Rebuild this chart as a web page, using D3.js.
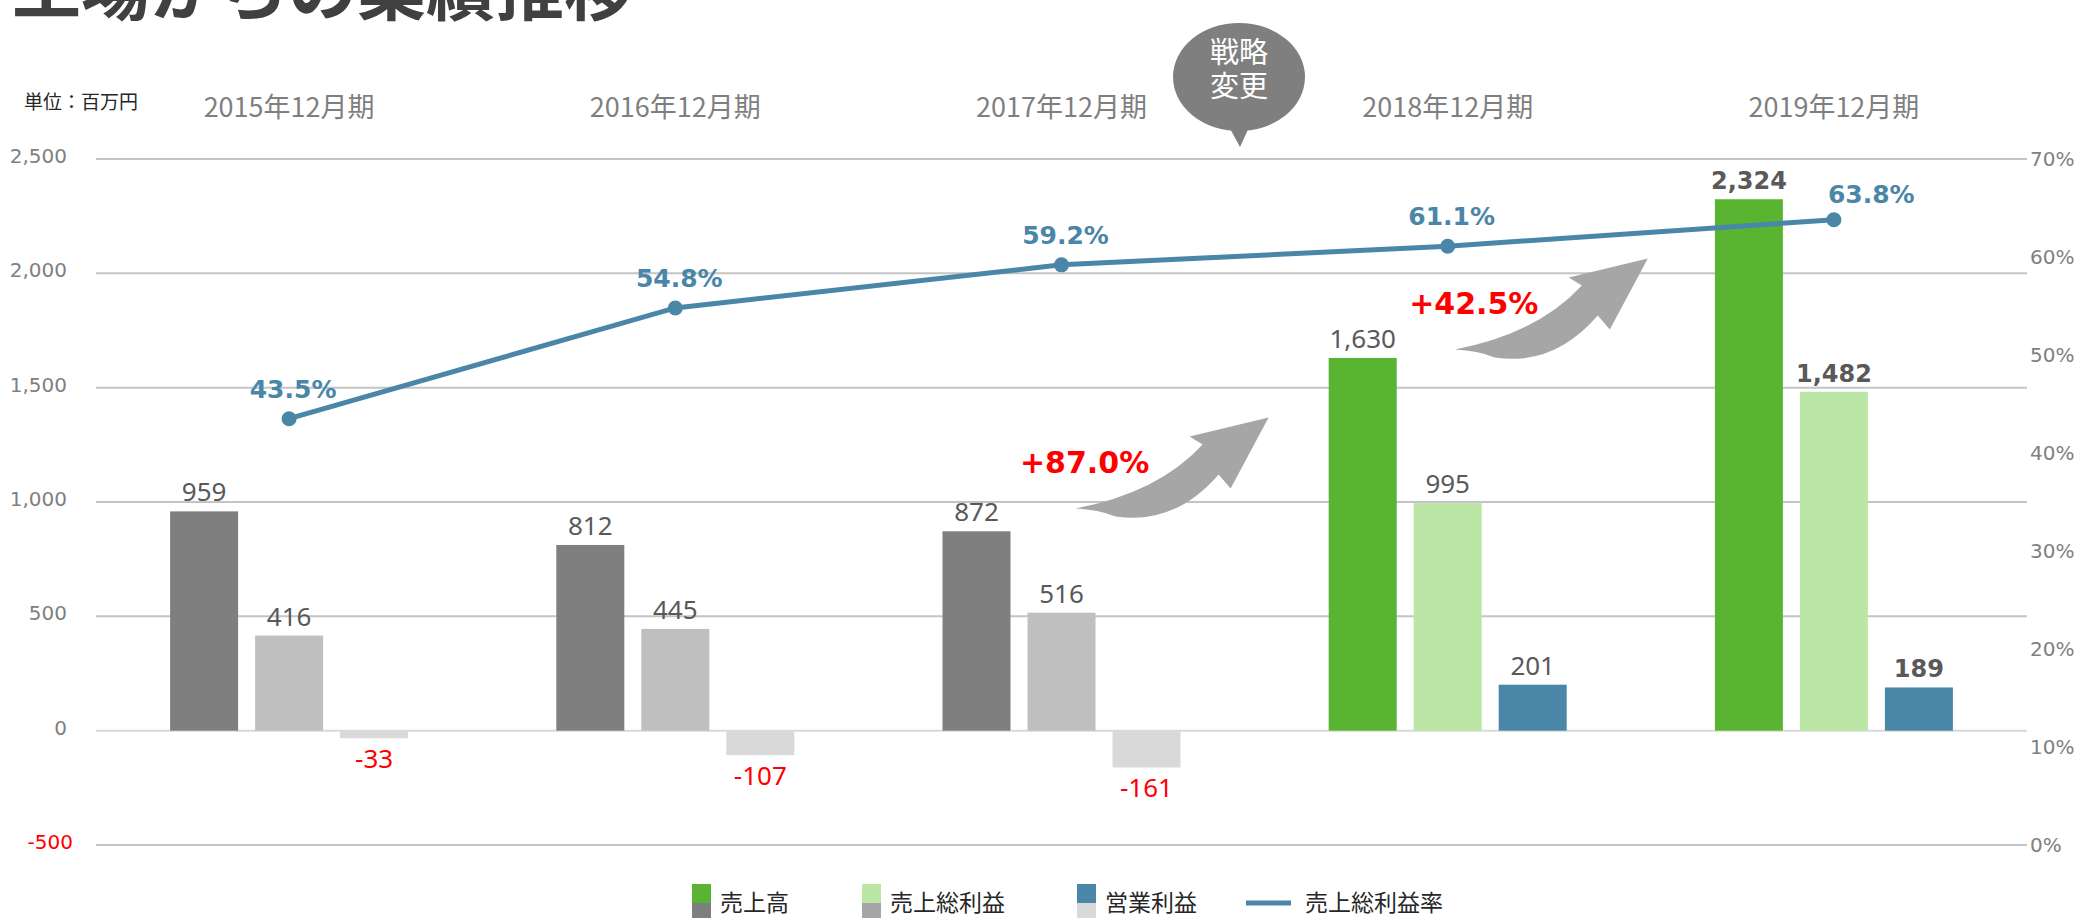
<!DOCTYPE html>
<html lang="ja">
<head>
<meta charset="utf-8">
<title>工場からの業績推移</title>
<script src="https://cdn.jsdelivr.net/npm/d3@7"></script>
<style>
    html, body { margin: 0; padding: 0; background: #fff; overflow: hidden; }
    svg { display: block; }
</style>
</head>
<body>
<div id="chart"></div>
<script>
// Data
const title = "工場からの業績推移";
const unitLabel = "単位：百万円";
const periods = ["2015年12月期", "2016年12月期", "2017年12月期", "2018年12月期", "2019年12月期"];
const seriesNames = ["売上高", "売上総利益", "営業利益"];
const sales = [959, 812, 872, 1630, 2324];
const grossProfit = [416, 445, 516, 995, 1482];
const operatingProfit = [-33, -107, -161, 201, 189];
const grossMargin = [43.5, 54.8, 59.2, 61.1, 63.8];
const lineName = "売上総利益率";
const leftTicks = [-500, 0, 500, 1000, 1500, 2000, 2500];
const rightTicks = [0, 10, 20, 30, 40, 50, 60, 70];
const growthLabels = ["+87.0%", "+42.5%"];
const calloutLines = ["戦略", "変更"];
const changeIndex = 3; // bars are colored from 2018

const oldColors = ["#7f7f7f", "#bfbfbf", "#d9d9d9"];
const newColors = ["#59b431", "#bce6a6", "#4a86a8"];
const legendOldColors = ["#7f7f7f", "#a6a6a6", "#d9d9d9"];
const lineColor = "#4a86a8";

const W = 2098, H = 918;
const values = [sales, grossProfit, operatingProfit];

// plain hyphen for negatives, like the original
const fmt = d3.formatLocale({ decimal: ".", thousands: ",", grouping: [3], currency: ["", ""], minus: "-" }).format(",");

const svg = d3.select("#chart")
    .append("svg")
    .attr("width", W)
    .attr("height", H);

// Scales
const x = d3.scaleBand().domain(periods).range([96, 2027]);
const xs = d3.scaleBand().domain(seriesNames).range([-119, 119]).paddingInner(0.2);
const y = d3.scaleLinear().domain([-500, 2500]).range([845, 159]);
const y2 = d3.scaleLinear().domain([0, 70]).range([845, 159]);
const cx = p => x(p) + x.bandwidth() / 2;

// Title (cut off by the top edge)
svg.append("text")
    .attr("x", 12)
    .attr("y", 15)
    .attr("font-family", "Noto Sans CJK JP")
    .attr("font-weight", 700)
    .attr("font-size", 69)
    .attr("fill", "#404040")
    .text(title);

svg.append("text")
    .attr("x", 24)
    .attr("y", 109)
    .attr("font-family", "Noto Sans CJK JP")
    .attr("font-size", 19)
    .attr("fill", "#262626")
    .text(unitLabel);

// Category labels on top
svg.selectAll(".cat")
    .data(periods)
    .enter()
    .append("text")
    .attr("x", d => cx(d))
    .attr("y", 117)
    .attr("text-anchor", "middle")
    .attr("font-family", "Noto Sans CJK JP")
    .attr("font-size", 27)
    .attr("fill", "#7f7f7f")
    .text(d => d);

// Gridlines
svg.selectAll(".grid")
    .data(leftTicks)
    .enter()
    .append("line")
    .attr("x1", 96)
    .attr("x2", 2027)
    .attr("y1", d => y(d))
    .attr("y2", d => y(d))
    .attr("stroke", d => d === 0 ? "#d9d9d9" : "#c4c4c4")
    .attr("stroke-width", 2);

// Left axis labels
svg.selectAll(".ly")
    .data(leftTicks)
    .enter()
    .append("text")
    .attr("x", d => d < 0 ? 73 : 67)
    .attr("y", d => y(d) - 3)
    .attr("dy", "0.35em")
    .attr("text-anchor", "end")
    .attr("font-family", "DejaVu Sans")
    .attr("font-size", 20)
    .attr("fill", d => d < 0 ? "#ff0000" : "#808080")
    .text(d => fmt(d));

// Right axis labels
svg.selectAll(".ry")
    .data(rightTicks)
    .enter()
    .append("text")
    .attr("x", 2030)
    .attr("y", d => y2(d))
    .attr("dy", "0.35em")
    .attr("font-family", "DejaVu Sans")
    .attr("font-size", 20)
    .attr("fill", "#808080")
    .text(d => d + "%");

// Bars
const bars = periods.flatMap((p, i) => seriesNames.map((s, j) => ({
    period: p, series: s, i, j, value: values[j][i]
})));

svg.selectAll(".bar")
    .data(bars)
    .enter()
    .append("rect")
    .attr("x", d => cx(d.period) + xs(d.series))
    .attr("y", d => y(Math.max(0, d.value)))
    .attr("width", xs.bandwidth())
    .attr("height", d => Math.abs(y(d.value) - y(0)))
    .attr("fill", d => d.i >= changeIndex ? newColors[d.j] : oldColors[d.j]);

// Bar labels
const lastPeriod = periods.length - 1;
svg.selectAll(".barLabel")
    .data(bars)
    .enter()
    .append("text")
    .attr("x", d => cx(d.period) + xs(d.series) + xs.bandwidth() / 2)
    .attr("y", d => d.value >= 0 ? y(d.value) - 10 : y(d.value) + 30)
    .attr("text-anchor", "middle")
    .attr("font-family", d => d.i === lastPeriod ? "DejaVu Sans" : "Noto Sans")
    .attr("font-weight", d => d.i === lastPeriod ? 700 : 400)
    .attr("font-size", d => d.i === lastPeriod ? 24 : 26)
    .attr("fill", d => d.value < 0 ? "#ff0000" : "#595959")
    .text(d => fmt(d.value));

// Growth arrows
const arrowPath = "M-193,91 Q-110,75 -66,27 L-79,19 L0,0 L-38,71 L-50,57 Q-94,108 -153,99 Q-170,92 -193,91 Z";
const arrowTips = [
    [x(periods[3]) + 14, y(1370)],
    [x(periods[4]) + 7, y(2065)]
];
const growthDx = [-184, -174];

svg.selectAll(".arrow")
    .data(arrowTips)
    .enter()
    .append("path")
    .attr("d", arrowPath)
    .attr("transform", d => `translate(${d[0]},${d[1]})`)
    .attr("fill", "#a6a6a6");

svg.selectAll(".growth")
    .data(growthLabels)
    .enter()
    .append("text")
    .attr("x", (d, i) => arrowTips[i][0] + growthDx[i])
    .attr("y", (d, i) => arrowTips[i][1] + 45)
    .attr("dy", "0.35em")
    .attr("text-anchor", "middle")
    .attr("font-family", "DejaVu Sans")
    .attr("font-weight", 700)
    .attr("font-size", 30)
    .attr("fill", "#ff0000")
    .text(d => d);

// Gross margin line
const line = d3.line()
    .x((d, i) => cx(periods[i]))
    .y(d => y2(d));

svg.append("path")
    .datum(grossMargin)
    .attr("d", line)
    .attr("fill", "none")
    .attr("stroke", lineColor)
    .attr("stroke-width", 5);

svg.selectAll(".dot")
    .data(grossMargin)
    .enter()
    .append("circle")
    .attr("cx", (d, i) => cx(periods[i]))
    .attr("cy", d => y2(d))
    .attr("r", 7.5)
    .attr("fill", lineColor);

const last = grossMargin.length - 1;
svg.selectAll(".dotLabel")
    .data(grossMargin)
    .enter()
    .append("text")
    .attr("x", (d, i) => i === last ? cx(periods[i]) - 6 : cx(periods[i]) + 4)
    .attr("y", (d, i) => i === last ? y2(d) - 17 : y2(d) - 21)
    .attr("text-anchor", (d, i) => i === last ? "start" : "middle")
    .attr("font-family", "DejaVu Sans")
    .attr("font-weight", 700)
    .attr("font-size", 25)
    .attr("fill", lineColor)
    .text(d => d.toFixed(1) + "%");

// Callout bubble
const bx = 1239, by = 77;
const callout = svg.append("g");
callout.append("ellipse")
    .attr("cx", bx)
    .attr("cy", by)
    .attr("rx", 66)
    .attr("ry", 54)
    .attr("fill", "#7f7f7f");
callout.append("path")
    .attr("d", `M${bx - 12},${by + 46} L${bx + 12},${by + 46} L${bx + 1},${by + 70} Z`)
    .attr("fill", "#7f7f7f");
callout.append("text")
    .attr("x", bx)
    .attr("y", by - 14)
    .attr("text-anchor", "middle")
    .attr("font-family", "Noto Sans CJK JP")
    .attr("font-size", 29)
    .attr("fill", "#ffffff")
    .selectAll("tspan")
    .data(calloutLines)
    .enter()
    .append("tspan")
    .attr("x", bx)
    .attr("dy", (d, i) => i === 0 ? 0 : 34)
    .text(d => d);

// Legend
const legendX = [692, 862, 1077];
const legend = svg.append("g");
seriesNames.forEach((s, j) => {
    legend.append("rect")
        .attr("x", legendX[j]).attr("y", 884)
        .attr("width", 19).attr("height", 19)
        .attr("fill", newColors[j]);
    legend.append("rect")
        .attr("x", legendX[j]).attr("y", 903)
        .attr("width", 19).attr("height", 19)
        .attr("fill", legendOldColors[j]);
    legend.append("text")
        .attr("x", legendX[j] + 28).attr("y", 903)
        .attr("dy", "0.35em")
        .attr("font-family", "Noto Sans CJK JP")
        .attr("font-size", 23)
        .attr("fill", "#262626")
        .text(s);
});
legend.append("line")
    .attr("x1", 1246).attr("x2", 1291)
    .attr("y1", 903).attr("y2", 903)
    .attr("stroke", lineColor)
    .attr("stroke-width", 5);
legend.append("text")
    .attr("x", 1305).attr("y", 903)
    .attr("dy", "0.35em")
    .attr("font-family", "Noto Sans CJK JP")
    .attr("font-size", 23)
    .attr("fill", "#262626")
    .text(lineName);
</script>
</body>
</html>
